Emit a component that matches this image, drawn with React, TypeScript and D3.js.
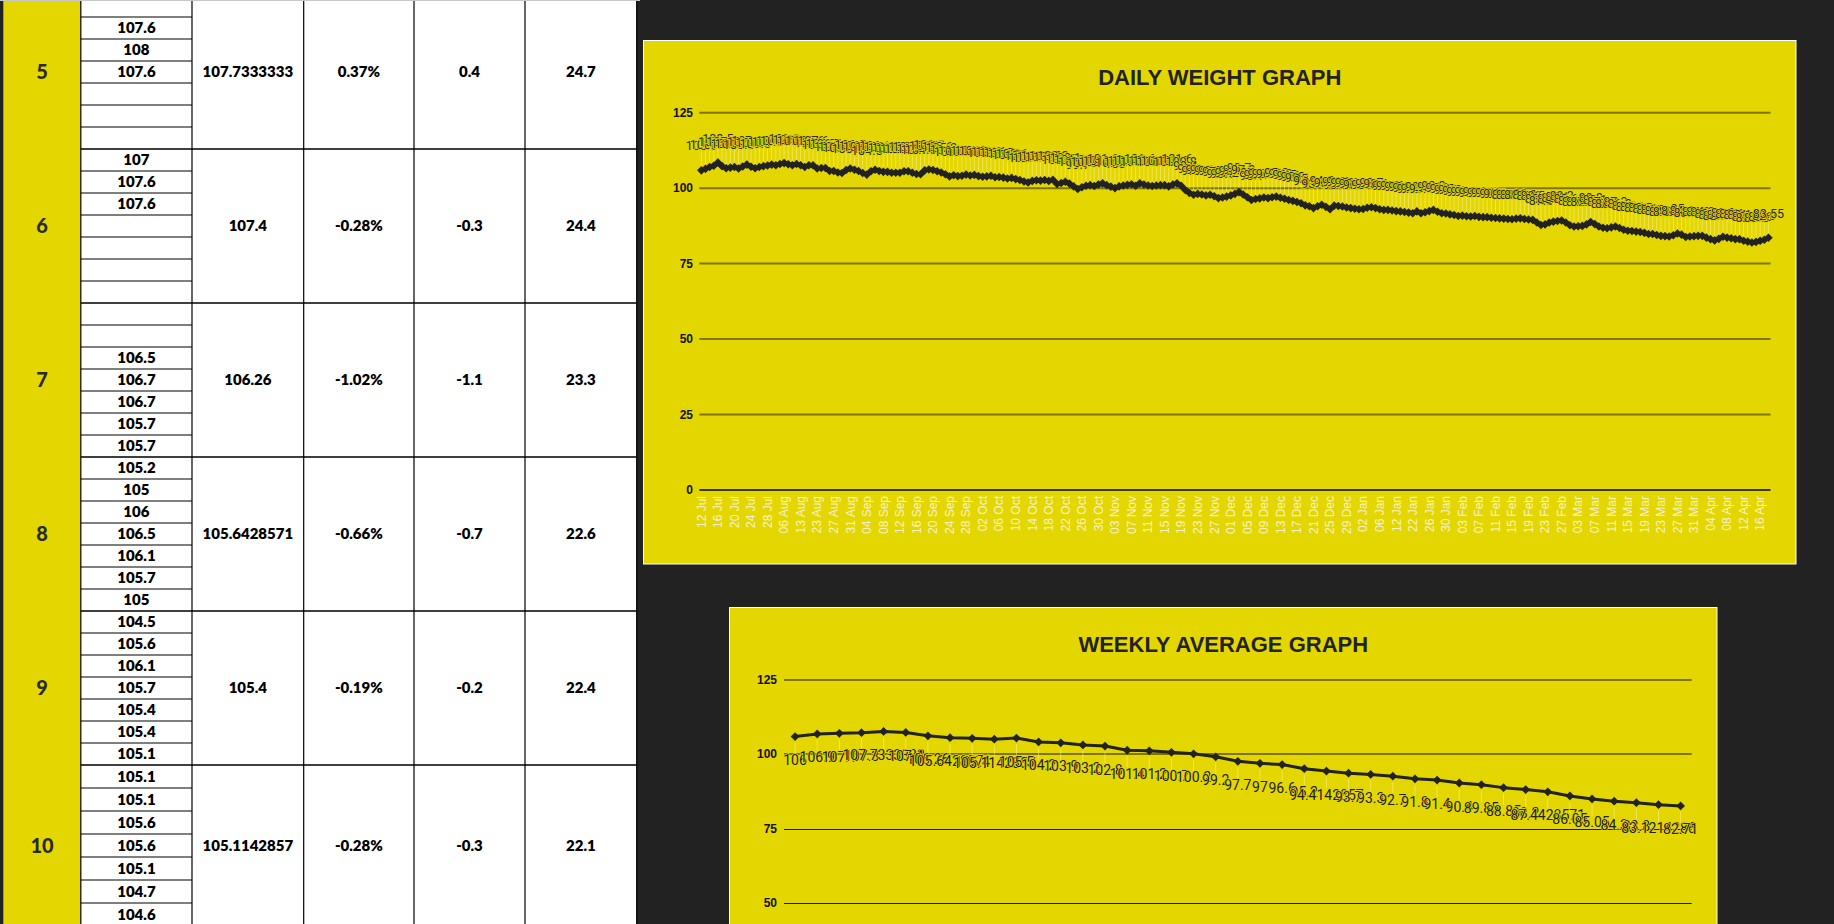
import React from 'react';
import * as d3 from 'd3';

// ---------------- DATA ----------------
const weeks = [5, 6, 7, 8, 9, 10];
const weekEntries: (number | null)[][] = [
  [null, 107.6, 108, 107.6, null, null, null],
  [107, 107.6, 107.6, null, null, null, null],
  [null, null, 106.5, 106.7, 106.7, 105.7, 105.7],
  [105.2, 105, 106, 106.5, 106.1, 105.7, 105],
  [104.5, 105.6, 106.1, 105.7, 105.4, 105.4, 105.1],
  [105.1, 105.1, 105.6, 105.6, 105.1, 104.7, 104.6],
];
const weekAvgText = ['107.7333333', '107.4', '106.26', '105.6428571', '105.4', '105.1142857'];
const weekChangePct = ['0.37%', '-0.28%', '-1.02%', '-0.66%', '-0.19%', '-0.28%'];
const weekChange = ['0.4', '-0.3', '-1.1', '-0.7', '-0.2', '-0.3'];
const weekBmi = ['24.7', '24.4', '23.3', '22.6', '22.4', '22.1'];

const dailyWeights = [
  105.9, 106.4, 107.0, 107.4, 108.5, 107.3, 106.6, 106.8, 107.0, 106.5,
  107.2, 107.8, 107.1, 106.6, 107.0, 107.3, 107.5, 107.8, 107.6, 108.0,
  108.3, 107.9,
  107.6, 108, 107.6,
  107, 107.6, 107.6,
  106.5, 106.7, 106.7, 105.7, 105.7,
  105.2, 105, 106, 106.5, 106.1, 105.7, 105,
  104.5, 105.6, 106.1, 105.7, 105.4, 105.4, 105.1,
  105.1, 105.1, 105.6, 105.6, 105.1, 104.7, 104.6,
  105.9, 106.2, 106.0, 105.6, 105.2, 104.6, 103.9,
  104.3, 104.0, 104.1, 104.5, 104.2, 104.4, 104.0, 103.8, 103.9,
  104.1, 103.6, 103.7, 103.5, 103.2, 103.4, 103.0, 102.7, 102.2, 101.9,
  102.4, 102.6, 102.5, 102.7, 102.4, 102.8, 101.4, 101.7, 102.1, 101.5,
  100.6, 99.7, 100.3, 100.8, 101.0, 100.7, 101.2, 101.6, 101.0, 100.5,
  100.0, 100.6, 100.9, 101.1, 101.3, 100.8, 101.6, 101.2, 100.9, 100.7,
  100.9, 101.0, 101.0, 100.6, 101.2, 101.6, 100.8, 99.4, 98.4, 97.8,
  98.1, 97.9, 97.6, 97.8, 97.3, 96.7, 96.9, 97.2, 97.6, 98.1,
  98.7, 97.9, 97.0, 96.1, 96.4, 96.6, 96.9, 96.7, 97.0, 97.2,
  96.8, 96.5, 96.1, 95.8, 95.4, 95.0, 94.3, 94.0, 93.4, 94.0,
  94.5, 93.8, 93.0, 94.2, 94.1, 93.9, 93.6, 93.4, 93.2, 93.0,
  93.1, 93.5, 93.7, 93.4, 93.0, 92.8, 92.8, 92.6, 92.4, 92.3,
  92.1, 91.9, 91.7, 92.3, 91.7, 92.0, 92.4, 92.8, 92.2, 91.7,
  91.6, 91.3, 91.1, 90.8, 90.9, 90.7, 90.6, 90.8, 90.5, 90.4,
  90.4, 90.2, 90.1, 90.0, 89.9, 89.8, 89.7, 89.9, 90.0, 89.8,
  89.6, 89.5, 88.6, 87.8, 88.0, 88.6, 88.9, 89.1, 89.3, 88.6,
  87.7, 87.3, 87.4, 87.5, 88.0, 88.8, 88.1, 87.3, 86.9, 86.7,
  87.0, 87.3, 86.8, 86.2, 85.9, 85.8, 85.6, 85.5, 85.2, 84.8,
  84.8, 84.5, 84.2, 84.1, 84.0, 84.4, 85.0, 84.6, 83.8, 84.0,
  84.1, 84.2, 84.2, 83.6, 83.1, 82.7, 83.2, 83.9, 83.6, 83.4,
  83.1, 83.1, 82.6, 82.3, 82.0, 82.2, 82.6, 82.9, 83.55,
];

const dailyTickLabels = [
  '12 Jul', '16 Jul', '20 Jul', '24 Jul', '28 Jul', '06 Aug', '13 Aug', '23 Aug', '27 Aug', '31 Aug',
  '04 Sep', '08 Sep', '12 Sep', '16 Sep', '20 Sep', '24 Sep', '28 Sep', '02 Oct', '06 Oct', '10 Oct',
  '14 Oct', '18 Oct', '22 Oct', '26 Oct', '30 Oct', '03 Nov', '07 Nov', '11 Nov', '15 Nov', '19 Nov',
  '23 Nov', '27 Nov', '01 Dec', '05 Dec', '09 Dec', '13 Dec', '17 Dec', '21 Dec', '25 Dec', '29 Dec',
  '02 Jan', '06 Jan', '12 Jan', '22 Jan', '26 Jan', '30 Jan', '03 Feb', '07 Feb', '11 Feb', '15 Feb',
  '19 Feb', '23 Feb', '27 Feb', '03 Mar', '07 Mar', '11 Mar', '15 Mar', '19 Mar', '23 Mar', '27 Mar',
  '31 Mar', '04 Apr', '08 Apr', '12 Apr', '16 Apr',
];
const dailyTickEvery = 4;

const weeklyAverages = [
  106, 106.9, 107.1, 107.3, 107.7333333, 107.4, 106.26, 105.6428571, 105.4, 105.1142857,
  105.5, 104.2, 103.9, 103.2, 102.8, 101.4, 101.2, 100.7, 100.2, 99.2,
  97.7, 97.0, 96.6, 95.2, 94.4142857, 93.7, 93.3, 92.7, 91.8, 91.4,
  90.4, 89.85, 88.85, 88.2, 87.4428571, 86.05, 85.05, 84.3, 83.8, 83.1214286,
  82.71,
];
const yTicks = [0, 25, 50, 75, 100, 125];

// ---------------- STYLE ----------------
const YELLOW = '#e4d600';
const DARK = '#222222';
const TXT = '#222222';

const COLS = [3.3, 80.8, 192, 303.7, 414, 525, 636.7];
const SUB_H = [22, 22, 22, 22, 22, 23];
const TABLE_TOP = -5;

function diamond(x: number, y: number, r: number) {
  return `M${x},${y - r}L${x + r},${y}L${x},${y + r}L${x - r},${y}Z`;
}

function Table() {
  const els: React.ReactNode[] = [];
  let top = TABLE_TOP;
  weeks.forEach((w, i) => {
    const h = SUB_H[i];
    const rowH = h * 7;
    const cy = top + rowH / 2;
    els.push(
      <text key={`wk${i}`} x={(COLS[0] + COLS[1]) / 2} y={cy + 7} textAnchor="middle"
        fontFamily="Lato" fontWeight={900} fontSize={20} fill="#2a2a2a">{w}</text>
    );
    weekEntries[i].forEach((v, j) => {
      const sy = top + j * h;
      if (j > 0) {
        els.push(<line key={`sl${i}-${j}`} x1={COLS[1]} x2={COLS[2]} y1={sy} y2={sy} stroke="#000" strokeWidth={1.2} />);
      }
      if (v !== null) {
        els.push(
          <text key={`v${i}-${j}`} x={(COLS[1] + COLS[2]) / 2} y={sy + h / 2 + 5.3} textAnchor="middle"
            fontFamily="Lato" fontWeight={800} fontSize={15} fill="#000">{String(v)}</text>
        );
      }
    });
    const cells = [weekAvgText[i], weekChangePct[i], weekChange[i], weekBmi[i]];
    cells.forEach((t, k) => {
      els.push(
        <text key={`c${i}-${k}`} x={(COLS[k + 2] + COLS[k + 3]) / 2} y={cy + 5.3} textAnchor="middle"
          fontFamily="Lato" fontWeight={800} fontSize={15} fill="#000">{t}</text>
      );
    });
    els.push(<line key={`rl${i}`} x1={COLS[1]} x2={COLS[6]} y1={top} y2={top} stroke="#000" strokeWidth={1.2} />);
    top += rowH;
    els.push(<line key={`rb${i}`} x1={COLS[1]} x2={COLS[6]} y1={top} y2={top} stroke="#000" strokeWidth={1.2} />);
  });
  return (
    <g>
      <rect x={COLS[0]} y={0} width={COLS[1] - COLS[0]} height={924} fill={YELLOW} />
      <rect x={COLS[1]} y={0} width={COLS[6] - COLS[1]} height={924} fill="#fff" />
      {COLS.slice(1).map((c, i) => (
        <line key={`vc${i}`} x1={c} x2={c} y1={0} y2={924} stroke="#000" strokeWidth={1.2} />
      ))}
      {els}
      <line x1={0} x2={640} y1={0.5} y2={0.5} stroke="#c8c8c8" strokeWidth={1} />
    </g>
  );
}

function DailyChart() {
  const box = { x: 643.5, y: 40.5, w: 1152.5, h: 523.5 };
  const idx = dailyWeights.map((_, i) => i);
  const x = d3.scalePoint<number>().domain(idx).range([699.3, 1770.5]).padding(0.5);
  const y = d3.scaleLinear().domain([0, 125]).range([490, 112.7]);
  const line = d3.line<number>().x((_, i) => x(i)!).y((d) => y(d));
  return (
    <g>
      <rect x={box.x} y={box.y} width={box.w} height={box.h} fill={YELLOW} stroke="#fff" strokeWidth={1} />
      <text x={box.x + box.w / 2} y={85} textAnchor="middle" fontFamily="Liberation Sans, Arial" fontWeight={700}
        fontSize={22} fill={TXT}>DAILY WEIGHT GRAPH</text>
      {yTicks.map((t) => (
        <g key={t}>
          <line x1={699.3} x2={1770.5} y1={y(t)} y2={y(t)} stroke="#000" strokeOpacity={t === 0 ? 0.75 : 0.45} strokeWidth={2} />
          <text x={693} y={y(t) + 4} textAnchor="end" fontFamily="Liberation Sans, Arial" fontWeight={700}
            fontSize={12} fill="#111">{t}</text>
        </g>
      ))}
      {dailyTickLabels.map((lab, k) => {
        const xx = x(k * dailyTickEvery)!;
        return (
          <text key={lab + k} transform={`translate(${xx + 4.3},496) rotate(-90)`} textAnchor="end"
            fontFamily="Liberation Sans, Arial" fontSize={12} fill="#f6f2cc">{lab}</text>
        );
      })}
      {dailyWeights.map((v, i) => (
        <line key={`ll${i}`} x1={x(i)!} x2={x(i)!} y1={y(v) - 19} y2={y(v) - 4} stroke="#fff8b0" strokeOpacity={0.45} strokeWidth={1} />
      ))}
      {dailyWeights.map((v, i) => (
        <text key={`dl${i}`} x={x(i)!} y={y(v) - 20} textAnchor="middle" fontFamily="Roboto, Arial" fontSize={12.5}
          fill="#2a2a2a" stroke={YELLOW} strokeWidth={1.4} paintOrder="stroke">{String(v)}</text>
      ))}
      <path d={line(dailyWeights) || ''} fill="none" stroke="#222" strokeWidth={4.2} strokeLinejoin="round" />
      {dailyWeights.map((v, i) => (
        <path key={`dm${i}`} d={diamond(x(i)!, y(v), 4.3)} fill="#222" />
      ))}
    </g>
  );
}

function WeeklyChart() {
  const box = { x: 729.5, y: 607.5, w: 987.5, h: 520 };
  const idx = weeklyAverages.map((_, i) => i);
  const x = d3.scalePoint<number>().domain(idx).range([784, 1691.7]).padding(0.5);
  const y = d3.scaleLinear().domain([50, 125]).range([903.3, 680]);
  const line = d3.line<number>().x((_, i) => x(i)!).y((d) => y(d));
  return (
    <g>
      <rect x={box.x} y={box.y} width={box.w} height={box.h} fill={YELLOW} stroke="#fff" strokeWidth={1} />
      <text x={box.x + box.w / 2} y={652} textAnchor="middle" fontFamily="Liberation Sans, Arial" fontWeight={700}
        fontSize={22} fill={TXT}>WEEKLY AVERAGE GRAPH</text>
      {yTicks.map((t) => (
        <g key={t}>
          <line x1={784} x2={1691.7} y1={Math.round(y(t)) + (t >= 100 ? 0 : 0.5)} y2={Math.round(y(t)) + (t >= 100 ? 0 : 0.5)}
            stroke="#000" strokeOpacity={t >= 100 ? 0.45 : 0.9} strokeWidth={t >= 100 ? 2 : 1.2} />
          <text x={777} y={y(t) + 4} textAnchor="end" fontFamily="Liberation Sans, Arial" fontWeight={700}
            fontSize={12} fill="#111">{t}</text>
        </g>
      ))}
      {weeklyAverages.map((v, i) => (
        <line key={`wl${i}`} x1={x(i)!} x2={x(i)!} y1={y(v) + 6} y2={y(v) + 17} stroke="#fff8b0" strokeOpacity={0.5} strokeWidth={1} />
      ))}
      {weeklyAverages.map((v, i) => (
        <text key={`wt${i}`} x={x(i)!} y={y(v) + 28.5} textAnchor="middle" fontFamily="Roboto, Arial" fontSize={14}
          fill="#222" stroke={YELLOW} strokeWidth={1.4} paintOrder="stroke">{String(v)}</text>
      ))}
      <path d={line(weeklyAverages) || ''} fill="none" stroke="#222" strokeWidth={3} strokeLinejoin="round" />
      {weeklyAverages.map((v, i) => (
        <path key={`wm${i}`} d={diamond(x(i)!, y(v), 4.4)} fill="#222" />
      ))}
    </g>
  );
}

export default function App() {
  return (
    <svg width={1834} height={924} viewBox="0 0 1834 924"
      style={{ position: 'fixed', left: 0, top: 0, display: 'block', background: DARK }}>
      <rect x={0} y={0} width={1834} height={924} fill={DARK} />
      <Table />
      <DailyChart />
      <WeeklyChart />
    </svg>
  );
}
